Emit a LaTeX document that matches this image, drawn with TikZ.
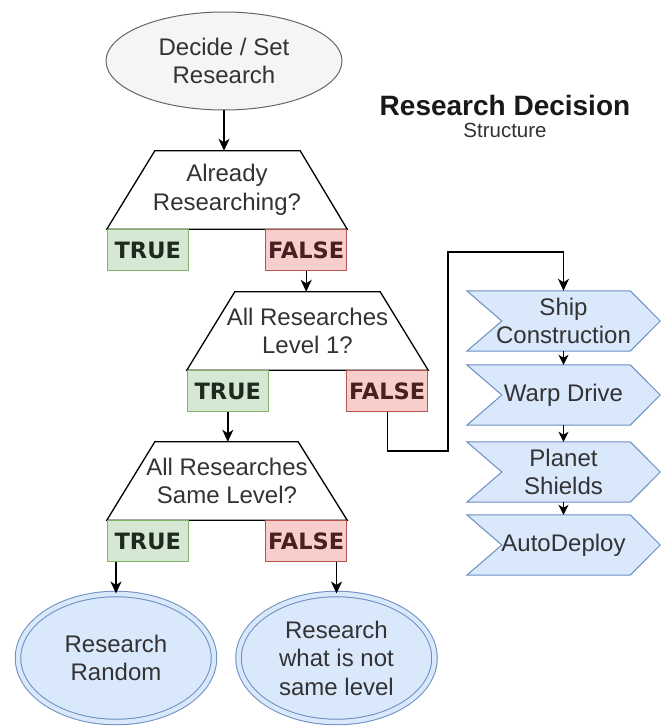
\documentclass[tikz,border=0pt]{standalone}
\usepackage{fontspec}
\setmainfont{Liberation Sans}
\newfontfamily\tagfont{DejaVu Sans}
\usetikzlibrary{arrows.meta,calc,shapes.geometric,backgrounds}

\definecolor{greyfill}{HTML}{F5F5F5}
\definecolor{greyline}{HTML}{666666}
\definecolor{txt}{HTML}{333333}
\definecolor{bluefill}{HTML}{DAE8FC}
\definecolor{blueline}{HTML}{6C8EBF}
\definecolor{greenfill}{HTML}{D5E8D4}
\definecolor{greenline}{HTML}{82B366}
\definecolor{greentxt}{HTML}{1E2A1E}
\definecolor{redfill}{HTML}{F8CECC}
\definecolor{redline}{HTML}{B85450}
\definecolor{redtxt}{HTML}{4A1F1F}

\begin{document}
\begin{tikzpicture}[x=1pt,y=-1pt,
  every node/.style={font=\fontsize{24}{28.5}\selectfont, text=txt, align=center, inner sep=0pt},
  arr/.style={draw=black, line width=1.4pt, -{Stealth[length=12pt,width=11pt,inset=3.5pt]}},
  shortarr/.style={draw=black, line width=1.4pt, -{Stealth[length=10pt,width=10pt,inset=3pt]}},
  startnode/.style={ellipse, draw=greyline, fill=greyfill, line width=1pt,
    minimum width=236pt, minimum height=98pt},
  question/.style={rectangle, minimum width=240pt, minimum height=78pt},
  qline/.style={draw=black, line width=1.3pt, line join=miter},
  tagbox/.style={rectangle, line width=1pt, minimum width=81pt, minimum height=41pt,
    font=\tagfont\bfseries\fontsize{22.5}{26}\selectfont},
  yesbox/.style={tagbox, draw=greenline, fill=greenfill, text=greentxt},
  nobox/.style={tagbox, draw=redline, fill=redfill, text=redtxt},
  stepbox/.style={rectangle, minimum width=193pt, minimum height=60pt},
  stepline/.style={draw=blueline, fill=bluefill, line width=1pt},
  endnode/.style={ellipse, draw=blueline, fill=bluefill, double=bluefill,
    double distance=4.5pt, line width=1pt, minimum width=196pt, minimum height=128pt}
]
\useasboundingbox (0,0) rectangle (661,727);
\begin{scope}[on background layer]
  \fill[white] (0,0) rectangle (661,727);
\end{scope}

% start
\node[startnode] (start) at (224,61) {Decide / Set\\Research};

% title
\node[anchor=base, text=black!90, text depth=0pt, font=\bfseries\fontsize{28}{30}\selectfont] (title) at (505,116) {Research Decision};
\node[anchor=base, text height=13pt, font=\fontsize{20.5}{24}\selectfont] (subtitle) at (505,138) {Structure};

% first question
\node[question] (q1) at (227,190) {Already\\Researching?};
\draw[qline] ($(q1.north west)+(48,0)$) -- ($(q1.north east)+(-47,0)$) -- (q1.south east) -- (q1.south west) -- cycle;
\node[yesbox, anchor=north west] (y1) at (q1.south west) {TRUE};
\node[nobox, anchor=north east] (n1) at (q1.south east) {FALSE};

% second question
\node[question, minimum width=241pt] (q2) at (307.5,331) {All Researches\\Level 1?};
\draw[qline] ($(q2.north west)+(48,0)$) -- ($(q2.north east)+(-48,0)$) -- (q2.south east) -- (q2.south west) -- cycle;
\node[yesbox, anchor=north west] (y2) at (q2.south west) {TRUE};
\node[nobox, anchor=north east] (n2) at (q2.south east) {FALSE};

% third question
\node[question] (q3) at (227,481) {All Researches\\Same Level?};
\draw[qline] ($(q3.north west)+(48,0)$) -- ($(q3.north east)+(-49,0)$) -- (q3.south east) -- (q3.south west) -- cycle;
\node[yesbox, anchor=north west] (y3) at (q3.south west) {TRUE};
\node[nobox, anchor=north east] (n3) at (q3.south east) {FALSE};

% outcomes
\node[endnode] (e1) at (116,658) {Research\\Random};
\node[endnode] (e2) at (336.5,658) {Research\\what is not\\same level};

% research chain
\node[stepbox] (c1) at (563.5,321) {Ship\\Construction};
\node[stepbox] (c2) at (563.5,395) {Warp Drive};
\node[stepbox] (c3) at (563.5,472) {Planet\\Shields};
\node[stepbox] (c4) at (563.5,545) {AutoDeploy};
\begin{scope}[on background layer]
  \foreach \c in {c1,c2,c3,c4}{
    \draw[stepline] (\c.north west) -- ($(\c.north east)+(-30,0)$) -- (\c.east)
      -- ($(\c.south east)+(-30,0)$) -- (\c.south west) -- ($(\c.west)+(35,0)$) -- cycle;
  }
\end{scope}

% connectors
\draw[arr] (start.south) -- (start.south |- q1.north);
\draw[arr] (n1.south) -- (n1.south |- q2.north);
\draw[arr] (y2.south) -- (y2.south |- q3.north);
\draw[arr] (y3.south -| e1.north) -- (e1.north);
\draw[arr] (n3.south -| e2.north) -- (e2.north);

\coordinate (k1) at (448,451);
\coordinate (k2) at (448,252);
\draw[arr] (n2.south) |- (k1) -- (k2) -| (c1.north);

\draw[shortarr] (c1.south) -- (c2.north);
\draw[shortarr] (c2.south) -- (c3.north);
\draw[shortarr] (c3.south) -- (c4.north);
\end{tikzpicture}
\end{document}
